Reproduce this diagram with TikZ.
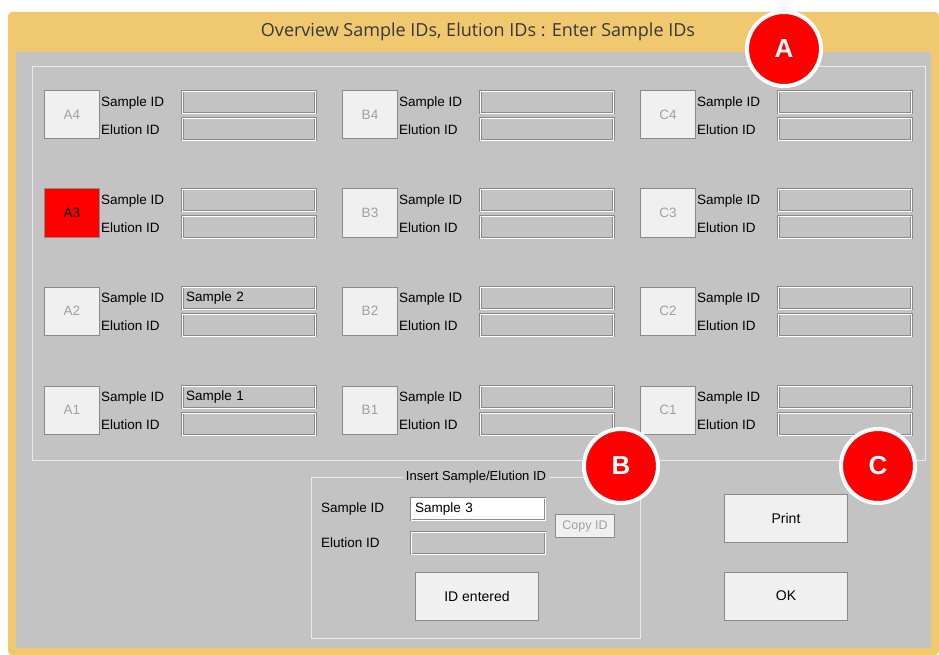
\documentclass[tikz,border=0pt]{standalone}
\usepackage{fontspec}
\setmainfont{Liberation Sans}
\newfontfamily\titlefont{Open Sans}
\definecolor{winorange}{HTML}{F0C870}
\definecolor{bodygray}{HTML}{C3C3C3}
\definecolor{btnface}{HTML}{F0F0F0}
\definecolor{greytext}{HTML}{A0A0A0}
\definecolor{edgegray}{HTML}{8A8A8A}
\definecolor{markred}{HTML}{FF0000}

% texts of the filled sample fields
\expandafter\def\csname sidA2\endcsname{Sample 2}
\expandafter\def\csname sidA1\endcsname{Sample 1}

\tikzset{
	wellA3/.style = {fill = markred, text = black},
}

\begin{document}
\begin{tikzpicture}[x = 1pt, y = -1pt,
		lbl/.style = {anchor = west, inner sep = 0pt, font = \fontsize{13.5}{15}\selectfont},
		well/.style = {rectangle, draw = edgegray, line width = 1pt, fill = btnface, text = greytext, minimum width = 55pt, minimum height = 48pt, font = \fontsize{13.5}{15}\selectfont},
		btn/.style = {rectangle, draw = edgegray, line width = 1pt, fill = btnface, minimum width = 123pt, minimum height = 48pt, font = \fontsize{14}{16}\selectfont},
		field/.style = {rectangle, draw = edgegray, line width = 1pt, double = white, double distance = 0.6pt, fill = bodygray, minimum height = 22pt, text width = 126pt, align = left, inner xsep = 3pt, inner ysep = 0pt, font = \fontsize{13.5}{15}\selectfont},
		etched/.style = {draw = white!92!black, line width = 1pt},
		marker/.style = {circle, fill = markred, draw = white, line width = 4pt, minimum size = 74pt, text = white, font = \fontsize{26}{28}\selectfont\bfseries}]
	\useasboundingbox (0, 0) rectangle (939, 655);
	\fill[white] (0, 0) rectangle (939, 655);

	% window frame and body
	\fill[winorange, rounded corners = 4pt] (8, 12) rectangle (939, 655);
	\fill[bodygray] (16, 52) rectangle (931, 648);
	\node[text = black!78, font = \titlefont\fontsize{18}{21}\selectfont] (title) at (478, 32) {Overview Sample IDs, Elution IDs : Enter Sample IDs};

	% overview of the wells
	\draw[etched] (32, 67) rectangle (925, 460);
	\foreach \col/\cx in {A/0, B/298, C/596} {
		\foreach \row/\ry in {4/0, 3/98, 2/196, 1/295} {
			\node[well, well\col\row/.try] (\col\row) at (72 + \cx, 115 + \ry) {\col\row};
			\node[lbl] (\col\row sl) at (101 + \cx, 103 + \ry) {Sample ID};
			\node[lbl] (\col\row el) at (101 + \cx, 130 + \ry) {Elution ID};
			\node[field, minimum width = 133pt] (\col\row sf) at (249 + \cx, 102 + \ry) {\ifcsname sid\col\row\endcsname\csname sid\col\row\endcsname\fi};
			\node[field, minimum width = 133pt] (\col\row ef) at (249 + \cx, 129 + \ry) {};
		}
	}

	% insert box
	\draw[etched] (311, 477) rectangle (640, 638);
	\node[fill = bodygray, inner xsep = 3pt, inner ysep = 1pt, font = \fontsize{13}{15}\selectfont] (insert) at (476, 477) {Insert Sample/Elution ID};
	\node[lbl] (isl) at (321, 509) {Sample ID};
	\node[lbl] (iel) at (321, 543) {Elution ID};
	\node[field, minimum width = 134pt, fill = white] (isf) at (478, 509) {Sample 3};
	\node[field, minimum width = 134pt] (ief) at (478, 543) {};
	\node[btn, minimum width = 59pt, minimum height = 23pt, text = greytext, font = \fontsize{12.5}{14}\selectfont] (copy) at (585, 526) {Copy ID};
	\node[btn] (entered) at (477, 596) {ID entered};

	% right buttons
	\node[btn] (print) at (786, 518) {Print};
	\node[btn] (ok) at (786, 596) {OK};

	% markers
	\node[marker] (ma) at (784, 49) {A};
	\node[marker] (mb) at (621, 466) {B};
	\node[marker] (mc) at (878, 466) {C};
\end{tikzpicture}
\end{document}
